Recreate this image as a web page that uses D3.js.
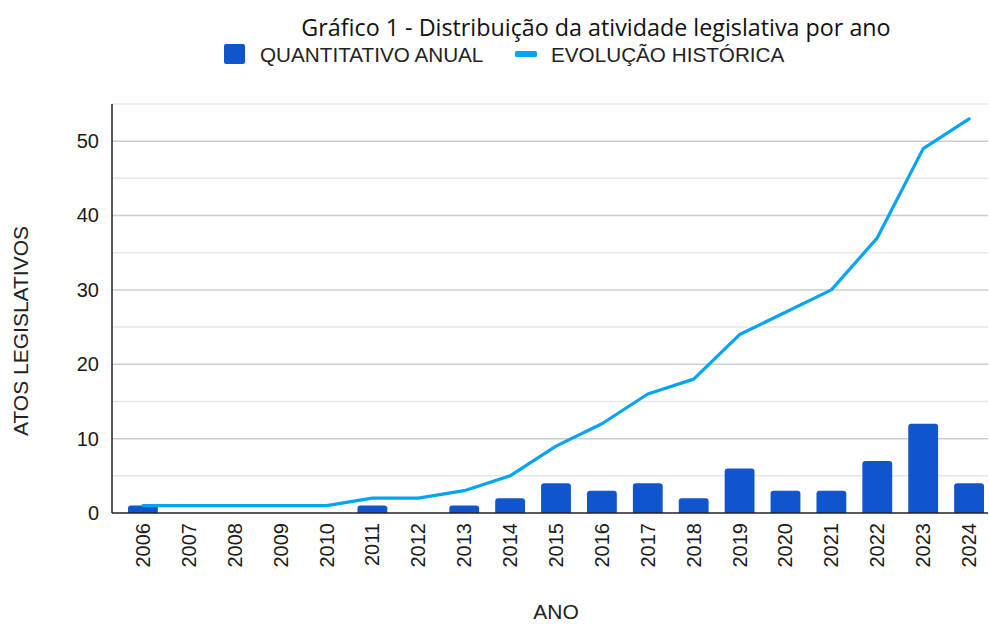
<!DOCTYPE html>
<html>
<head>
<meta charset="utf-8">
<script src="https://cdn.jsdelivr.net/npm/d3@7"></script>
<style>
  body { margin: 0; background: #fff; }
  svg { display: block; font-family: "Liberation Sans", Arial, sans-serif; }
</style>
</head>
<body>
<div id="chart"></div>
<script>
'use strict';

// Data
var years = ['2006', '2007', '2008', '2009', '2010', '2011', '2012', '2013', '2014', '2015',
             '2016', '2017', '2018', '2019', '2020', '2021', '2022', '2023', '2024'];
var annual = [1, 0, 0, 0, 0, 1, 0, 1, 2, 4, 3, 4, 2, 6, 3, 3, 7, 12, 4];
var cumulative = [1, 1, 1, 1, 1, 2, 2, 3, 5, 9, 12, 16, 18, 24, 27, 30, 37, 49, 53];
var yTicks = [0, 10, 20, 30, 40, 50];
var yMinorTicks = [5, 15, 25, 35, 45, 55];

(function() {
  var width = 989, height = 624;
  var plotL = 112, plotR = 988, plotT = 104, plotB = 513;

  var barColor = '#1155cc', lineColor = '#03a4f4';

  var svg = d3.select('#chart').append('svg')
      .attr('width', width)
      .attr('height', height);

  var x = d3.scaleBand()
      .domain(years)
      .range([128, 984])
      .paddingInner(0.35)
      .paddingOuter(0);

  var y = d3.scaleLinear()
      .domain([0, 55])
      .range([plotB, plotT]);

  // Grid lines: light at the fives, darker at the tens
  svg.append('g').selectAll('line')
      .data(yMinorTicks).enter().append('line')
      .attr('x1', plotL).attr('x2', plotR)
      .attr('y1', function(d) { return y(d); })
      .attr('y2', function(d) { return y(d); })
      .attr('stroke', '#e6e6e6').attr('stroke-width', 1.5);

  svg.append('g').selectAll('line')
      .data(yTicks.slice(1)).enter().append('line')
      .attr('x1', plotL).attr('x2', plotR)
      .attr('y1', function(d) { return y(d); })
      .attr('y2', function(d) { return y(d); })
      .attr('stroke', '#cccccc').attr('stroke-width', 1.5);

  // Bars (rounded top corners)
  function barPath(d, i) {
    if (d === 0) return '';
    var x0 = x(years[i]), w = x.bandwidth(), y0 = y(d), y1 = y(0),
        r = Math.min(3, (y1 - y0) / 2);
    return 'M' + x0 + ',' + y1 +
           'V' + (y0 + r) +
           'Q' + x0 + ',' + y0 + ' ' + (x0 + r) + ',' + y0 +
           'H' + (x0 + w - r) +
           'Q' + (x0 + w) + ',' + y0 + ' ' + (x0 + w) + ',' + (y0 + r) +
           'V' + y1 + 'Z';
  }

  svg.append('g').selectAll('path')
      .data(annual).enter().append('path')
      .attr('d', barPath)
      .attr('fill', barColor);

  // Cumulative line
  var line = d3.line()
      .x(function(d, i) { return x(years[i]) + x.bandwidth() / 2; })
      .y(function(d) { return y(d); });

  svg.append('path')
      .datum(cumulative)
      .attr('d', line)
      .attr('fill', 'none')
      .attr('stroke', lineColor)
      .attr('stroke-width', 3.2)
      .attr('stroke-linejoin', 'round')
      .attr('stroke-linecap', 'round');

  // Axes
  var yAxis = d3.axisLeft(y).tickValues(yTicks).tickSize(0).tickPadding(13);
  var gy = svg.append('g')
      .attr('transform', 'translate(' + plotL + ',0)')
      .call(yAxis);
  gy.select('.domain').remove();
  gy.selectAll('text')
      .attr('font-size', 20)
      .attr('fill', '#1a1a1a')
      .style('font-family', '"Liberation Sans", Arial, sans-serif');

  var xAxis = d3.axisBottom(x).tickSize(0).tickPadding(0);
  var gx = svg.append('g')
      .attr('transform', 'translate(0,' + plotB + ')')
      .call(xAxis);
  gx.select('.domain').remove();
  gx.selectAll('text')
      .attr('font-size', 20)
      .attr('fill', '#1a1a1a')
      .style('font-family', '"Liberation Sans", Arial, sans-serif')
      .attr('text-anchor', 'end')
      .attr('dy', null)
      .attr('y', 0)
      .attr('transform', 'translate(7,10) rotate(-90)');

  svg.append('line')
      .attr('x1', plotL).attr('x2', plotL)
      .attr('y1', plotT).attr('y2', plotB)
      .attr('stroke', '#222').attr('stroke-width', 1.5);
  svg.append('line')
      .attr('x1', plotL).attr('x2', plotR)
      .attr('y1', plotB).attr('y2', plotB)
      .attr('stroke', '#222').attr('stroke-width', 1.5);

  // Title
  svg.append('text')
      .attr('x', 596).attr('y', 36)
      .attr('text-anchor', 'middle')
      .attr('font-size', 23.3)
      .attr('fill', '#111')
      .style('font-family', '"Open Sans", "Noto Sans", sans-serif')
      .text('Gráfico 1 - Distribuição da atividade legislativa por ano');

  // Legend
  var legend = svg.append('g').attr('font-size', 20.7).attr('fill', '#222');
  legend.append('rect')
      .attr('x', 224).attr('y', 44).attr('width', 21).attr('height', 20)
      .attr('rx', 2).attr('fill', barColor);
  legend.append('text').attr('x', 260).attr('y', 62).text('QUANTITATIVO ANUAL');
  legend.append('rect')
      .attr('x', 515).attr('y', 51).attr('width', 22).attr('height', 6)
      .attr('rx', 1.5).attr('fill', lineColor);
  legend.append('text').attr('x', 551).attr('y', 62).text('EVOLUÇÃO HISTÓRICA');

  // Axis titles
  svg.append('text')
      .attr('transform', 'translate(28,331) rotate(-90)')
      .attr('text-anchor', 'middle')
      .attr('font-size', 21)
      .attr('fill', '#222')
      .text('ATOS LEGISLATIVOS');

  svg.append('text')
      .attr('x', 556).attr('y', 619)
      .attr('text-anchor', 'middle')
      .attr('font-size', 21)
      .attr('fill', '#222')
      .text('ANO');
})();
</script>
</body>
</html>
